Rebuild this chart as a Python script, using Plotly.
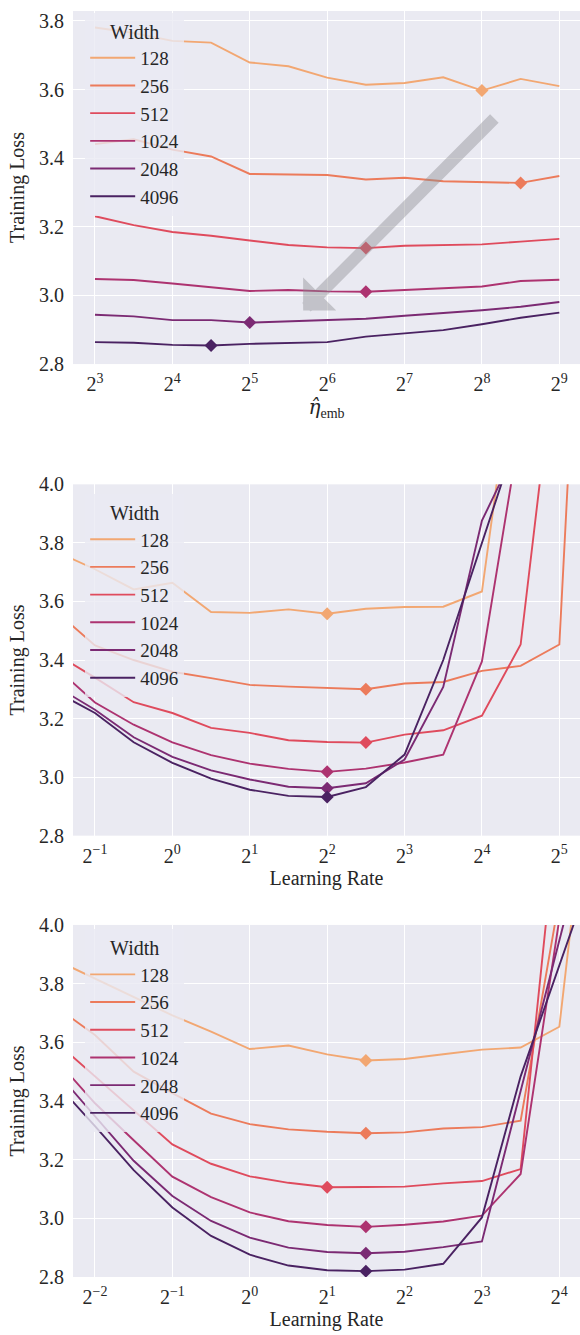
import math
import plotly.graph_objects as go

# ---------------- data ----------------
widths = ["128", "256", "512", "1024", "2048", "4096"]
colors = ["#f2a772", "#ec7b5b", "#df4b5d", "#ad3370", "#7b2a73", "#4a2262"]

# Panel 1: embedding multiplier sweep (x = 2**exponent)
top_exp = [3, 3.5, 4, 4.5, 5, 5.5, 6, 6.5, 7, 7.5, 8, 8.5, 9]
top_128 = [3.781, 3.765, 3.742, 3.737, 3.679, 3.668, 3.635, 3.614, 3.619, 3.636, 3.597, 3.631, 3.610]
top_256 = [3.441, 3.455, 3.425, 3.405, 3.354, 3.352, 3.351, 3.338, 3.343, 3.333, 3.331, 3.328, 3.348]
top_512 = [3.231, 3.205, 3.185, 3.174, 3.160, 3.147, 3.140, 3.138, 3.145, 3.147, 3.149, 3.157, 3.165]
top_1024 = [3.048, 3.045, 3.035, 3.024, 3.013, 3.016, 3.012, 3.011, 3.017, 3.021, 3.026, 3.042, 3.046]
top_2048 = [2.944, 2.939, 2.928, 2.928, 2.921, 2.925, 2.927, 2.932, 2.941, 2.948, 2.957, 2.967, 2.981]
top_4096 = [2.864, 2.862, 2.856, 2.854, 2.859, 2.862, 2.864, 2.880, 2.890, 2.899, 2.916, 2.935, 2.950]
top_ticks = [3, 4, 5, 6, 7, 8, 9]
top_y_ticks = [2.8, 3.0, 3.2, 3.4, 3.6, 3.8]

# Panel 2: learning-rate sweep
mid_exp = [-1.5, -1, -0.5, 0, 0.5, 1, 1.5, 2, 2.5, 3, 3.5, 4, 4.5, 5, 5.5]
mid_128 = [3.770, 3.710, 3.641, 3.664, 3.564, 3.561, 3.573, 3.558, 3.575, 3.581, 3.582, 3.634, 4.600]
mid_256 = [3.565, 3.450, 3.400, 3.360, 3.338, 3.315, 3.309, 3.304, 3.300, 3.320, 3.325, 3.363, 3.380, 3.453, 6.000]
mid_512 = [3.420, 3.340, 3.256, 3.219, 3.168, 3.151, 3.126, 3.120, 3.118, 3.145, 3.160, 3.210, 3.453, 4.570]
mid_1024 = [3.373, 3.255, 3.179, 3.119, 3.075, 3.046, 3.028, 3.018, 3.029, 3.050, 3.077, 3.395, 4.200]
mid_2048 = [3.310, 3.230, 3.136, 3.069, 3.023, 2.992, 2.967, 2.962, 2.979, 3.060, 3.308, 3.876, 4.150]
mid_4096 = [3.290, 3.219, 3.119, 3.049, 2.995, 2.957, 2.936, 2.932, 2.966, 3.077, 3.400, 3.805, 4.200]
mid_ticks = [-1, 0, 1, 2, 3, 4, 5]

# Panel 3: learning-rate sweep (second setting)
bot_exp = [-2.5, -2, -1.5, -1, -0.5, 0, 0.5, 1, 1.5, 2, 2.5, 3, 3.5, 4, 4.5]
bot_128 = [3.880, 3.818, 3.755, 3.692, 3.636, 3.577, 3.589, 3.559, 3.538, 3.543, 3.559, 3.575, 3.582, 3.653, 4.800]
bot_256 = [3.720, 3.625, 3.500, 3.427, 3.357, 3.321, 3.303, 3.295, 3.290, 3.293, 3.306, 3.311, 3.333, 4.090]
bot_512 = [3.600, 3.485, 3.368, 3.252, 3.186, 3.143, 3.121, 3.106, 3.107, 3.108, 3.119, 3.127, 3.168, 4.450]
bot_1024 = [3.540, 3.392, 3.266, 3.142, 3.072, 3.020, 2.990, 2.977, 2.971, 2.978, 2.989, 3.009, 3.151, 4.020]
bot_2048 = [3.500, 3.347, 3.196, 3.076, 2.991, 2.934, 2.900, 2.885, 2.881, 2.886, 2.902, 2.921, 3.432, 3.947, 4.460]
bot_4096 = [3.460, 3.314, 3.164, 3.037, 2.940, 2.876, 2.839, 2.823, 2.820, 2.825, 2.845, 3.003, 3.484, 3.864, 4.240]
bot_ticks = [-2, -1, 0, 1, 2, 3, 4]

lr_y_ticks = [2.8, 3.0, 3.2, 3.4, 3.6, 3.8, 4.0]

panels = [
    dict(exp=top_exp, series=[top_128, top_256, top_512, top_1024, top_2048, top_4096],
         ticks=top_ticks, yticks=top_y_ticks, xr=(2.716, 9.267), yr=(2.8, 3.829),
         title="<span style='font-family:DejaVu Serif'><i>η̂</i></span><sub>emb</sub>",
         dom=(0.7211, 1.0), legend="legend"),
    dict(exp=mid_exp, series=[mid_128, mid_256, mid_512, mid_1024, mid_2048, mid_4096],
         ticks=mid_ticks, yticks=lr_y_ticks, xr=(-1.284, 5.267), yr=(2.8, 4.0),
         title="Learning Rate", dom=(0.3486, 0.6261), legend="legend2"),
    dict(exp=bot_exp, series=[bot_128, bot_256, bot_512, bot_1024, bot_2048, bot_4096],
         ticks=bot_ticks, yticks=lr_y_ticks, xr=(-2.284, 4.267), yr=(2.8, 4.0),
         title="Learning Rate", dom=(0.0, 0.2781), legend="legend3"),
]

FONT = "Liberation Serif"
BG = "#eaeaf2"
fig = go.Figure()

for p_i, p in enumerate(panels):
    sfx = "" if p_i == 0 else str(p_i + 1)
    xa, ya = "x" + sfx, "y" + sfx
    for w, col, vals in zip(widths, colors, p["series"]):
        xs = [2 ** e for e in p["exp"][:len(vals)]]
        fig.add_trace(go.Scatter(x=xs, y=vals, mode="lines", name=w,
                                 line=dict(color=col, width=1.9),
                                 xaxis=xa, yaxis=ya, legend=p["legend"],
                                 cliponaxis=True))
    for w, col, vals in zip(widths, colors, p["series"]):
        xs = [2 ** e for e in p["exp"][:len(vals)]]
        k = min(range(len(vals)), key=lambda i: vals[i])
        fig.add_trace(go.Scatter(x=[xs[k]], y=[vals[k]], mode="markers",
                                 marker=dict(symbol="diamond", size=10, color=col),
                                 xaxis=xa, yaxis=ya, showlegend=False))

    axis_common = dict(showgrid=True, gridcolor="white", gridwidth=1.3,
                       zeroline=False, showline=False, ticks="",
                       tickfont=dict(family=FONT, size=20, color="#262626"))
    xaxis = dict(axis_common, type="log",
                 range=[p["xr"][0] * math.log10(2), p["xr"][1] * math.log10(2)],
                 tickvals=[2 ** t for t in p["ticks"]],
                 ticktext=["2<sup>%s</sup>" % (str(t).replace("-", "−")) for t in p["ticks"]],
                 ticklabelstandoff=6,
                 title=dict(text=p["title"], font=dict(family=FONT, size=20, color="#262626"),
                            standoff=4),
                 domain=[0, 1], anchor=ya)
    yaxis = dict(axis_common, range=list(p["yr"]),
                 tickvals=p["yticks"], ticktext=["%.1f" % v for v in p["yticks"]],
                 ticklabelstandoff=8,
                 title=dict(text="Training Loss", font=dict(family=FONT, size=20, color="#262626"),
                            standoff=8),
                 domain=list(p["dom"]), anchor=xa)
    fig.layout["xaxis" + sfx] = xaxis
    fig.layout["yaxis" + sfx] = yaxis

legend_common = dict(bgcolor="rgba(234,234,242,0.8)", borderwidth=0,
                     font=dict(family=FONT, size=19, color="#262626"),
                     title=dict(text="Width", side="top center",
                                font=dict(family=FONT, size=20, color="#262626")),
                     xanchor="left", yanchor="top", itemwidth=45, tracegroupgap=0)
fig.update_layout(
    legend=dict(legend_common, x=0.024, y=0.9985),
    legend2=dict(legend_common, x=0.024, y=0.6182),
    legend3=dict(legend_common, x=0.024, y=0.2745),
)

# arrow in the top panel
fig.add_annotation(xref="x", yref="y", axref="x", ayref="y",
                   x=5.69 * math.log10(2), y=2.956,
                   ax=8.18 * math.log10(2), ay=3.520,
                   text="", showarrow=True, arrowhead=1, arrowsize=0.65,
                   arrowwidth=12, arrowcolor="rgba(140,140,145,0.42)", standoff=0)

fig.update_layout(width=580, height=1335, autosize=False,
                  margin=dict(l=73, r=0, t=4, b=58),
                  paper_bgcolor="white", plot_bgcolor=BG,
                  font=dict(family=FONT, size=20, color="#262626"))

fig.write_html("out.html", config=dict(displayModeBar=False),
               post_script="document.body.style.margin='0';document.body.style.overflow='hidden';")
